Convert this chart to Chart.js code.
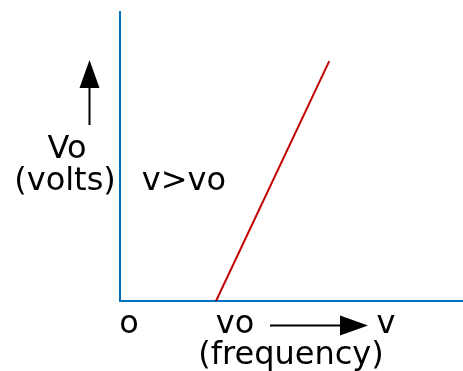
<!DOCTYPE html>
<html>
<head>
<meta charset="utf-8">
<script src="https://cdn.jsdelivr.net/npm/chart.js@4/dist/chart.umd.min.js"></script>
<style>
  html, body { margin: 0; padding: 0; background: #ffffff; }
  #wrap { width: 463px; height: 371px; }
</style>
</head>
<body>
<div id="wrap"><canvas id="c" width="463" height="371"></canvas></div>
<script>
// Photoelectric stopping potential vs. frequency (schematic)
const frequency = [2.8, 6.1];      // threshold frequency vo, then a higher frequency
const stoppingVolts = [0, 8.3];    // Vo at each frequency
const xRange = [0, 10];
const yRange = [0, 10];

const axisBlue = '#0070c0';
const lineRed = '#c00000';
const textFont = '32px "DejaVu Sans", Verdana, sans-serif';

const points = frequency.map((f, i) => ({ x: f, y: stoppingVolts[i] }));

// Text labels and direction arrows around the plot area
const annotations = {
  id: 'annotations',
  afterDraw(chart) {
    const ctx = chart.ctx;
    const xs = chart.scales.x;
    ctx.save();
    ctx.fillStyle = '#000';
    ctx.font = textFont;
    ctx.textAlign = 'center';
    ctx.textBaseline = 'alphabetic';
    ctx.fillText('Vo', 67, 158);
    ctx.fillText('(volts)', 65, 190);
    ctx.fillText('v>vo', 184, 190);
    ctx.fillText('o', xs.getPixelForValue(0) + 9, 333);
    ctx.fillText('vo', xs.getPixelForValue(frequency[0]) + 19, 333);
    ctx.fillText('v', 386, 333);
    ctx.fillText('(frequency)', 291, 364);

    ctx.strokeStyle = '#000';
    ctx.lineWidth = 2;
    // upward arrow (voltage)
    ctx.beginPath();
    ctx.moveTo(89.5, 125);
    ctx.lineTo(89.5, 86);
    ctx.stroke();
    ctx.beginPath();
    ctx.moveTo(89.5, 60);
    ctx.lineTo(99.5, 88);
    ctx.lineTo(79.5, 88);
    ctx.closePath();
    ctx.fill();
    // rightward arrow (frequency)
    ctx.beginPath();
    ctx.moveTo(270, 325.5);
    ctx.lineTo(342, 325.5);
    ctx.stroke();
    ctx.beginPath();
    ctx.moveTo(368, 325.5);
    ctx.lineTo(340, 315.5);
    ctx.lineTo(340, 335.5);
    ctx.closePath();
    ctx.fill();
    ctx.restore();
  }
};

new Chart(document.getElementById('c'), {
  type: 'scatter',
  data: {
    datasets: [{
      data: points,
      showLine: true,
      borderColor: lineRed,
      borderWidth: 2,
      pointRadius: 0,
      fill: false
    }]
  },
  options: {
    responsive: false,
    animation: false,
    layout: { padding: { left: 120, top: 12, right: 0, bottom: 70 } },
    plugins: { legend: { display: false }, tooltip: { enabled: false } },
    scales: {
      x: {
        type: 'linear', min: xRange[0], max: xRange[1],
        grid: { display: false, drawTicks: false },
        ticks: { display: false },
        border: { display: true, color: axisBlue, width: 2 }
      },
      y: {
        type: 'linear', min: yRange[0], max: yRange[1],
        grid: { display: false, drawTicks: false },
        ticks: { display: false },
        border: { display: true, color: axisBlue, width: 2 }
      }
    }
  },
  plugins: [annotations]
});
</script>
</body>
</html>
